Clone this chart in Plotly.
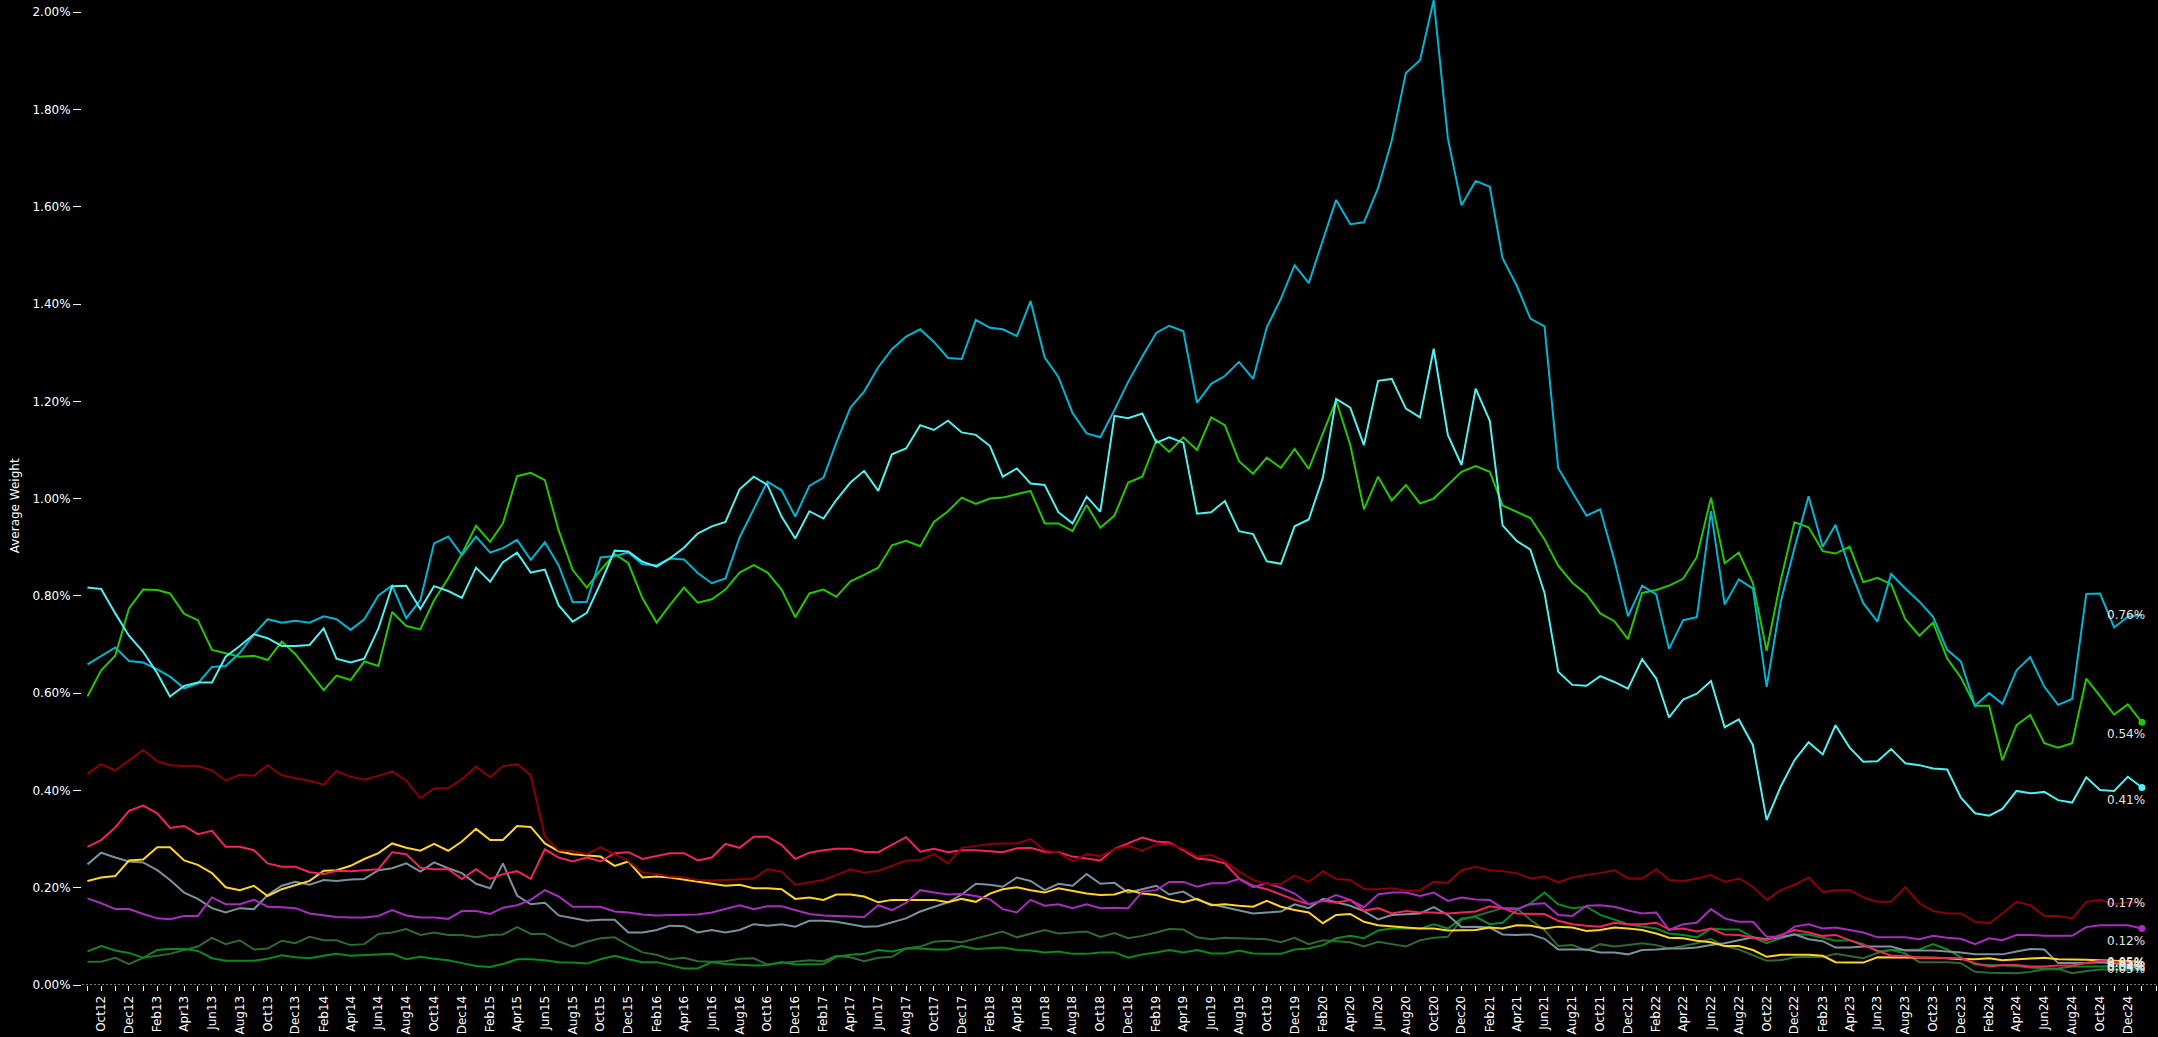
import pandas as pd
import plotly.graph_objects as go

# ---------------- data (average weight, %) ----------------
start_month = "2012-09-01"
n_months = 149

series_a = [0.659, 0.676, 0.694, 0.666, 0.663, 0.649, 0.634, 0.610, 0.620, 0.654, 0.656, 0.683, 0.721, 0.752, 0.745, 0.749, 0.745, 0.758, 0.752, 0.730, 0.752, 0.801, 0.821, 0.754, 0.791, 0.908, 0.922, 0.884, 0.922, 0.889, 0.898, 0.915, 0.874, 0.910, 0.863, 0.787, 0.788, 0.879, 0.882, 0.889, 0.865,
            0.863, 0.877, 0.875, 0.847, 0.826, 0.836, 0.920, 0.980, 1.035, 1.017, 0.963, 1.026, 1.043, 1.115, 1.187, 1.220, 1.270, 1.307, 1.333, 1.348, 1.322, 1.289, 1.287, 1.367, 1.351, 1.348, 1.334, 1.406, 1.290, 1.250, 1.176, 1.134, 1.126, 1.182, 1.240, 1.292, 1.341, 1.355, 1.344,
            1.197, 1.236, 1.252, 1.281, 1.246, 1.352, 1.411, 1.480, 1.443, 1.529, 1.614, 1.564, 1.568, 1.638, 1.736, 1.875, 1.901, 2.025, 1.741, 1.603, 1.653, 1.641, 1.494, 1.438, 1.370, 1.354, 1.063, 1.013, 0.965, 0.978, 0.874, 0.758, 0.821, 0.803, 0.691, 0.750, 0.756,
            0.974, 0.782, 0.834, 0.815, 0.613, 0.788, 0.898, 1.005, 0.901, 0.946, 0.856, 0.785, 0.747, 0.845, 0.815, 0.788, 0.757, 0.689, 0.665, 0.574, 0.600, 0.578, 0.647, 0.674, 0.613, 0.576, 0.588, 0.804, 0.805, 0.735, 0.757, 0.761]

series_b = [0.817, 0.814, 0.764, 0.718, 0.685, 0.641, 0.593, 0.615, 0.622, 0.622, 0.675, 0.697, 0.721, 0.713, 0.697, 0.697, 0.699, 0.733, 0.671, 0.663, 0.671, 0.733, 0.820, 0.821, 0.773, 0.820, 0.810, 0.796, 0.858, 0.829, 0.869, 0.889, 0.848, 0.854, 0.781, 0.747, 0.765, 0.826, 0.893, 0.891, 0.870,
            0.860, 0.877, 0.899, 0.928, 0.943, 0.952, 1.019, 1.045, 1.028, 0.963, 0.918, 0.974, 0.959, 0.997, 1.033, 1.057, 1.016, 1.091, 1.103, 1.151, 1.141, 1.160, 1.136, 1.131, 1.108, 1.045, 1.062, 1.031, 1.028, 0.972, 0.949, 1.004, 0.973, 1.170, 1.165, 1.175, 1.115, 1.126, 1.115,
            0.969, 0.972, 0.995, 0.933, 0.927, 0.871, 0.866, 0.943, 0.957, 1.043, 1.205, 1.187, 1.110, 1.242, 1.246, 1.185, 1.167, 1.308, 1.131, 1.069, 1.226, 1.160, 0.945, 0.913, 0.895, 0.806, 0.644, 0.617, 0.615, 0.635, 0.623, 0.609, 0.670, 0.630, 0.550, 0.587, 0.599,
            0.625, 0.530, 0.546, 0.493, 0.339, 0.408, 0.462, 0.499, 0.474, 0.534, 0.488, 0.459, 0.460, 0.485, 0.456, 0.452, 0.445, 0.443, 0.385, 0.353, 0.348, 0.362, 0.399, 0.394, 0.397, 0.380, 0.375, 0.427, 0.401, 0.399, 0.428, 0.406]

series_c = [0.593, 0.647, 0.677, 0.774, 0.813, 0.812, 0.805, 0.763, 0.750, 0.689, 0.682, 0.675, 0.677, 0.668, 0.706, 0.680, 0.643, 0.606, 0.636, 0.627, 0.665, 0.656, 0.767, 0.738, 0.731, 0.791, 0.836, 0.886, 0.944, 0.911, 0.949, 1.046, 1.053, 1.038, 0.935, 0.853, 0.817, 0.853, 0.886, 0.867, 0.795,
            0.745, 0.781, 0.817, 0.786, 0.793, 0.813, 0.848, 0.863, 0.848, 0.813, 0.756, 0.805, 0.813, 0.798, 0.830, 0.843, 0.858, 0.904, 0.913, 0.902, 0.952, 0.974, 1.002, 0.989, 1.000, 1.002, 1.009, 1.016, 0.949, 0.949, 0.933, 0.987, 0.940, 0.965, 1.033, 1.045, 1.120, 1.096, 1.126,
            1.100, 1.167, 1.151, 1.077, 1.051, 1.084, 1.063, 1.102, 1.061, 1.134, 1.202, 1.110, 0.978, 1.045, 0.996, 1.028, 0.990, 1.000, 1.028, 1.055, 1.067, 1.055, 0.986, 0.972, 0.960, 0.916, 0.862, 0.827, 0.803, 0.764, 0.748, 0.711, 0.806, 0.812, 0.821, 0.835, 0.880,
            1.002, 0.867, 0.889, 0.826, 0.687, 0.832, 0.951, 0.941, 0.892, 0.887, 0.901, 0.828, 0.837, 0.824, 0.752, 0.718, 0.745, 0.671, 0.632, 0.574, 0.574, 0.462, 0.534, 0.555, 0.497, 0.488, 0.497, 0.630, 0.594, 0.556, 0.577, 0.540]

series_darkred = [0.434, 0.454, 0.441, 0.462, 0.483, 0.460, 0.452, 0.450, 0.450, 0.441, 0.420, 0.432, 0.430, 0.452, 0.431, 0.425, 0.420, 0.412, 0.440, 0.428, 0.422, 0.430, 0.439, 0.420, 0.384, 0.404, 0.405, 0.423, 0.449, 0.427, 0.450, 0.454, 0.431, 0.305, 0.277, 0.275, 0.269, 0.283, 0.269, 0.255, 0.231, 0.228, 0.223, 0.221, 0.216, 0.215, 0.216, 0.218, 0.219, 0.238,
                  0.233, 0.206, 0.211, 0.216, 0.226, 0.238, 0.231, 0.235, 0.245, 0.256, 0.257, 0.269, 0.250, 0.282, 0.286, 0.290, 0.291, 0.291, 0.300, 0.277, 0.272, 0.254, 0.269, 0.265, 0.279, 0.286, 0.276, 0.289, 0.290, 0.280, 0.264, 0.267, 0.254, 0.233, 0.216, 0.207, 0.208, 0.225, 0.212, 0.234, 0.218, 0.216, 0.197, 0.197, 0.199, 0.194, 0.195, 0.212, 0.210, 0.236,
                  0.243, 0.236, 0.234, 0.230, 0.219, 0.223, 0.211, 0.221, 0.226, 0.230, 0.236, 0.219, 0.219, 0.238, 0.216, 0.214, 0.219, 0.226, 0.212, 0.219, 0.202, 0.175, 0.195, 0.206, 0.221, 0.191, 0.195, 0.195, 0.180, 0.171, 0.171, 0.201, 0.168, 0.152, 0.147, 0.147, 0.130, 0.127, 0.147, 0.171, 0.164, 0.142, 0.142, 0.137, 0.171, 0.175, 0.166, 0.170, 0.168]

series_pink = [0.284, 0.298, 0.324, 0.358, 0.369, 0.353, 0.323, 0.327, 0.310, 0.317, 0.284, 0.284, 0.277, 0.250, 0.243, 0.243, 0.232, 0.228, 0.235, 0.234, 0.236, 0.238, 0.273, 0.269, 0.241, 0.238, 0.238, 0.218, 0.238, 0.218, 0.228, 0.234, 0.218, 0.279, 0.262, 0.254, 0.262, 0.254, 0.271, 0.273, 0.259, 0.266, 0.271, 0.271, 0.256, 0.262, 0.290, 0.282, 0.305, 0.305,
               0.288, 0.259, 0.272, 0.277, 0.280, 0.280, 0.274, 0.273, 0.289, 0.304, 0.274, 0.280, 0.273, 0.277, 0.277, 0.275, 0.273, 0.281, 0.282, 0.274, 0.273, 0.264, 0.260, 0.256, 0.280, 0.291, 0.303, 0.295, 0.293, 0.277, 0.260, 0.257, 0.250, 0.219, 0.204, 0.197, 0.185, 0.175, 0.166, 0.173, 0.169, 0.175, 0.153, 0.158, 0.147, 0.152, 0.149, 0.149, 0.147, 0.149,
               0.151, 0.162, 0.158, 0.147, 0.146, 0.146, 0.132, 0.125, 0.122, 0.120, 0.128, 0.125, 0.125, 0.128, 0.114, 0.116, 0.110, 0.116, 0.104, 0.103, 0.097, 0.092, 0.103, 0.113, 0.108, 0.101, 0.103, 0.092, 0.082, 0.071, 0.060, 0.060, 0.056, 0.056, 0.055, 0.055, 0.045, 0.038, 0.041, 0.041, 0.038, 0.038, 0.040, 0.040, 0.045, 0.050, 0.048, 0.047, 0.046]

series_yellow = [0.214, 0.221, 0.224, 0.256, 0.258, 0.283, 0.283, 0.256, 0.247, 0.230, 0.201, 0.195, 0.204, 0.183, 0.197, 0.206, 0.214, 0.235, 0.236, 0.245, 0.259, 0.271, 0.291, 0.282, 0.276, 0.290, 0.276, 0.295, 0.321, 0.298, 0.298, 0.327, 0.325, 0.291, 0.275, 0.269, 0.266, 0.264, 0.245, 0.254, 0.221, 0.223, 0.221, 0.217, 0.212, 0.208, 0.204, 0.206, 0.199, 0.199,
                 0.197, 0.177, 0.180, 0.175, 0.186, 0.186, 0.182, 0.170, 0.175, 0.175, 0.175, 0.175, 0.170, 0.177, 0.171, 0.188, 0.197, 0.201, 0.195, 0.190, 0.199, 0.194, 0.188, 0.185, 0.186, 0.195, 0.188, 0.185, 0.176, 0.170, 0.177, 0.164, 0.166, 0.163, 0.161, 0.173, 0.161, 0.154, 0.149, 0.127, 0.144, 0.146, 0.130, 0.123, 0.120, 0.118, 0.116, 0.116, 0.112, 0.112,
                 0.113, 0.118, 0.116, 0.123, 0.122, 0.116, 0.120, 0.118, 0.111, 0.113, 0.118, 0.116, 0.113, 0.106, 0.097, 0.096, 0.091, 0.088, 0.080, 0.080, 0.072, 0.058, 0.062, 0.062, 0.062, 0.060, 0.047, 0.046, 0.046, 0.057, 0.057, 0.057, 0.057, 0.056, 0.055, 0.053, 0.053, 0.055, 0.051, 0.053, 0.055, 0.056, 0.053, 0.053, 0.052, 0.051, 0.050, 0.049, 0.048]

series_gray = [0.248, 0.272, 0.262, 0.254, 0.252, 0.236, 0.216, 0.190, 0.177, 0.158, 0.149, 0.158, 0.156, 0.185, 0.204, 0.212, 0.206, 0.216, 0.214, 0.217, 0.218, 0.236, 0.240, 0.250, 0.233, 0.252, 0.240, 0.230, 0.208, 0.199, 0.250, 0.184, 0.166, 0.169, 0.143, 0.138, 0.132, 0.134, 0.134, 0.108, 0.108, 0.113, 0.122, 0.121, 0.108, 0.113, 0.108, 0.113, 0.125, 0.122,
               0.125, 0.120, 0.132, 0.132, 0.130, 0.125, 0.120, 0.121, 0.129, 0.137, 0.151, 0.160, 0.170, 0.186, 0.208, 0.206, 0.202, 0.221, 0.214, 0.195, 0.208, 0.204, 0.228, 0.208, 0.210, 0.190, 0.197, 0.204, 0.186, 0.192, 0.175, 0.166, 0.160, 0.154, 0.147, 0.149, 0.151, 0.166, 0.158, 0.177, 0.170, 0.163, 0.152, 0.135, 0.144, 0.146, 0.147, 0.160, 0.144, 0.119,
               0.120, 0.118, 0.104, 0.103, 0.104, 0.095, 0.073, 0.073, 0.073, 0.067, 0.067, 0.063, 0.072, 0.073, 0.075, 0.075, 0.077, 0.082, 0.086, 0.092, 0.098, 0.094, 0.098, 0.104, 0.094, 0.090, 0.077, 0.077, 0.079, 0.079, 0.079, 0.071, 0.071, 0.071, 0.069, 0.067, 0.063, 0.063, 0.063, 0.069, 0.074, 0.073, 0.045, 0.045, 0.045, 0.047, 0.045, 0.042, 0.040]

series_purple = [0.178, 0.168, 0.156, 0.156, 0.146, 0.137, 0.135, 0.142, 0.142, 0.180, 0.166, 0.166, 0.175, 0.161, 0.160, 0.158, 0.147, 0.144, 0.140, 0.139, 0.139, 0.142, 0.154, 0.143, 0.139, 0.139, 0.136, 0.152, 0.152, 0.146, 0.159, 0.164, 0.175, 0.195, 0.182, 0.161, 0.161, 0.161, 0.151, 0.149, 0.145, 0.143, 0.144, 0.145, 0.145, 0.149, 0.156, 0.164, 0.156, 0.162,
                 0.162, 0.154, 0.146, 0.143, 0.142, 0.142, 0.140, 0.164, 0.154, 0.169, 0.195, 0.190, 0.186, 0.187, 0.183, 0.176, 0.156, 0.149, 0.175, 0.163, 0.166, 0.158, 0.166, 0.158, 0.159, 0.158, 0.192, 0.195, 0.212, 0.212, 0.202, 0.209, 0.209, 0.218, 0.201, 0.209, 0.200, 0.188, 0.166, 0.173, 0.185, 0.175, 0.160, 0.186, 0.190, 0.190, 0.183, 0.190, 0.173, 0.180,
                 0.176, 0.175, 0.158, 0.156, 0.166, 0.168, 0.144, 0.142, 0.163, 0.164, 0.161, 0.153, 0.147, 0.149, 0.113, 0.125, 0.128, 0.156, 0.137, 0.130, 0.130, 0.099, 0.099, 0.120, 0.125, 0.116, 0.118, 0.113, 0.108, 0.098, 0.098, 0.098, 0.094, 0.101, 0.097, 0.095, 0.084, 0.096, 0.092, 0.103, 0.103, 0.101, 0.101, 0.101, 0.119, 0.123, 0.123, 0.123, 0.116]

series_green = [0.069, 0.080, 0.071, 0.066, 0.056, 0.072, 0.074, 0.074, 0.070, 0.055, 0.050, 0.050, 0.050, 0.054, 0.061, 0.057, 0.055, 0.060, 0.064, 0.060, 0.061, 0.063, 0.064, 0.053, 0.058, 0.054, 0.051, 0.045, 0.039, 0.037, 0.043, 0.053, 0.053, 0.051, 0.047, 0.046, 0.044, 0.053, 0.060, 0.053, 0.047, 0.047, 0.040, 0.034, 0.034, 0.047, 0.043, 0.042, 0.040, 0.041,
                0.047, 0.042, 0.043, 0.043, 0.058, 0.062, 0.064, 0.072, 0.069, 0.075, 0.075, 0.073, 0.073, 0.080, 0.074, 0.075, 0.077, 0.072, 0.071, 0.067, 0.069, 0.064, 0.064, 0.067, 0.067, 0.056, 0.063, 0.067, 0.072, 0.067, 0.072, 0.065, 0.065, 0.071, 0.065, 0.064, 0.064, 0.073, 0.075, 0.082, 0.096, 0.101, 0.096, 0.112, 0.116, 0.116, 0.116, 0.125, 0.116, 0.137,
                0.140, 0.125, 0.128, 0.154, 0.168, 0.190, 0.166, 0.158, 0.161, 0.144, 0.134, 0.125, 0.120, 0.116, 0.106, 0.103, 0.098, 0.116, 0.114, 0.114, 0.098, 0.086, 0.096, 0.104, 0.104, 0.097, 0.091, 0.092, 0.084, 0.069, 0.072, 0.072, 0.073, 0.084, 0.073, 0.057, 0.042, 0.041, 0.040, 0.039, 0.036, 0.034, 0.034, 0.038, 0.038, 0.038, 0.039, 0.038, 0.036]

series_darkgreen = [0.048, 0.048, 0.056, 0.043, 0.056, 0.060, 0.064, 0.072, 0.079, 0.097, 0.084, 0.092, 0.073, 0.075, 0.091, 0.086, 0.099, 0.092, 0.092, 0.082, 0.084, 0.105, 0.108, 0.115, 0.103, 0.108, 0.103, 0.103, 0.098, 0.103, 0.104, 0.119, 0.105, 0.105, 0.090, 0.079, 0.089, 0.096, 0.098, 0.082, 0.067, 0.062, 0.053, 0.056, 0.049, 0.048, 0.049, 0.054, 0.055, 0.042,
                    0.045, 0.048, 0.051, 0.049, 0.060, 0.057, 0.049, 0.056, 0.058, 0.075, 0.079, 0.089, 0.091, 0.088, 0.096, 0.103, 0.110, 0.098, 0.106, 0.113, 0.106, 0.108, 0.110, 0.099, 0.107, 0.096, 0.101, 0.108, 0.115, 0.114, 0.098, 0.094, 0.097, 0.096, 0.095, 0.094, 0.088, 0.097, 0.084, 0.092, 0.090, 0.088, 0.079, 0.089, 0.084, 0.079, 0.092, 0.097, 0.099, 0.134,
                    0.142, 0.151, 0.158, 0.158, 0.134, 0.113, 0.080, 0.082, 0.071, 0.084, 0.079, 0.082, 0.086, 0.082, 0.075, 0.080, 0.086, 0.095, 0.080, 0.073, 0.062, 0.050, 0.051, 0.057, 0.058, 0.057, 0.064, 0.060, 0.055, 0.066, 0.072, 0.065, 0.047, 0.047, 0.047, 0.045, 0.027, 0.025, 0.024, 0.024, 0.027, 0.032, 0.033, 0.024, 0.029, 0.032, 0.032, 0.031, 0.033]

# ---------------- styling ----------------
dates = pd.date_range(start_month, periods=n_months, freq="MS")

# (name, values, colour, end-dot?, label y-shift)
traces = [
    ("Series 10", series_darkgreen, "#2E6A34", False, 0),
    ("Series 9", series_green, "#0B8A1F", False, 0),
    ("Series 8", series_gray, "#7A929E", False, 0),
    ("Series 7", series_yellow, "#FFD42A", False, 0),
    ("Series 6", series_pink, "#F2235F", False, 0),
    ("Series 5", series_purple, "#A92DBF", True, -12),
    ("Series 4", series_darkred, "#8B0000", False, 0),
    ("Series 3", series_c, "#22C800", True, -12),
    ("Series 1", series_a, "#00B5D3", False, 0),
    ("Series 2", series_b, "#4FF0F0", True, -12),
]

FONT = "DejaVu Sans, Verdana, sans-serif"
fig = go.Figure()
annotations = []
for name, vals, color, dot, yshift in traces:
    x = dates[:len(vals)]
    fig.add_trace(go.Scatter(
        x=x, y=vals, mode="lines", name=name,
        line=dict(color=color, width=2),
        hovertemplate="%{x|%b %Y}: %{y:.2f}%<extra>" + name + "</extra>",
    ))
    if dot:
        fig.add_trace(go.Scatter(
            x=[x[-1]], y=[vals[-1]], mode="markers", showlegend=False,
            marker=dict(color=color, size=7), hoverinfo="skip",
        ))
    annotations.append(dict(
        x=x[-1], y=vals[-1], xref="x", yref="y",
        text=f"{vals[-1]:.2f}%", showarrow=False,
        xanchor="right", yanchor="middle", xshift=5, yshift=yshift,
        font=dict(family=FONT, size=12, color="#e6e6e6"),
    ))

annotations.append(dict(
    text="Average Weight", xref="paper", yref="paper",
    x=-0.0323, y=0.487, xanchor="center", yanchor="middle",
    textangle=-90, showarrow=False,
    font=dict(family=FONT, size=12, color="#ffffff"),
))

fig.update_layout(
    width=2158, height=1037,
    margin=dict(l=82, r=1, t=0, b=52),
    paper_bgcolor="#000000", plot_bgcolor="#000000",
    showlegend=False,
    font=dict(family=FONT, color="#ffffff", size=12),
    annotations=annotations,
    shapes=[dict(type="line", xref="paper", yref="y", x0=0, x1=1, y0=0, y1=0,
                 line=dict(color="#ffffff", width=1, dash="2px,2px"))],
    hovermode="closest",
)
fig.update_xaxes(
    type="date", range=["2012-08-20", "2025-02-03"],
    tickformat="%b%y", dtick="M2", tick0="2012-10-01",
    tickangle=-90, ticks="outside", ticklen=5, tickcolor="#ffffff",
    tickfont=dict(family=FONT, size=12, color="#ffffff"),
    showgrid=False, zeroline=False, showline=False,
    minor=dict(dtick="M1", ticks="outside", ticklen=5, tickcolor="#ffffff", showgrid=False),
)
fig.update_yaxes(
    range=[0, 2.025], dtick=0.2, tick0=0, tickformat=".2f", ticksuffix="%",
    ticks="outside", ticklen=8, tickcolor="#ffffff",
    tickfont=dict(family=FONT, size=12, color="#ffffff"),
    showgrid=False, zeroline=False, showline=False,
)

fig.write_html(
    "out.html",
    config={"displayModeBar": False},
    post_script="document.body.style.margin='0';document.body.style.overflow='hidden';",
)
